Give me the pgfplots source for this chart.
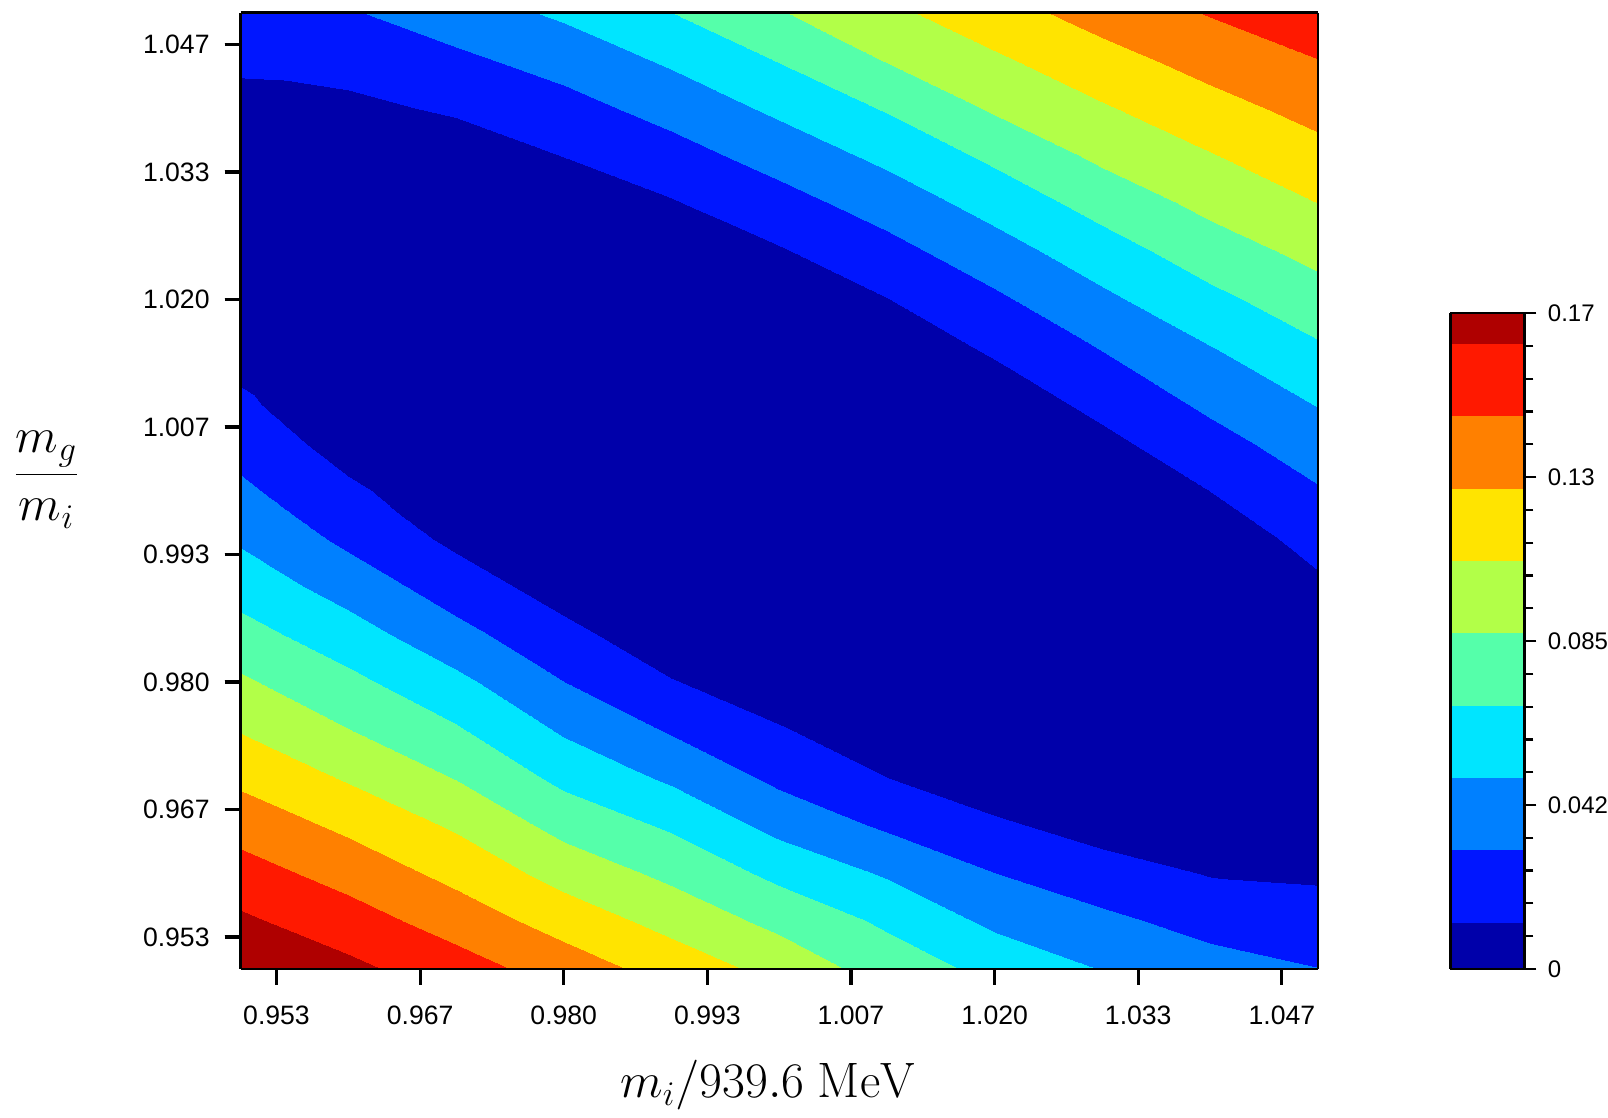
\documentclass[border=0pt]{standalone}
\usepackage[no-math]{fontspec}
\setmainfont{Liberation Sans}
\usepackage{pgfplots}
\pgfplotsset{compat=1.18}
\pgfplotsset{colormap={refjet}{
  rgb255(0pt)=(0,0,170) rgb255(121pt)=(0,22,255) rgb255(308.5pt)=(0,128,255)
  rgb255(496pt)=(0,229,255) rgb255(683.5pt)=(85,255,170) rgb255(871pt)=(178,255,72)
  rgb255(1058.5pt)=(255,228,0) rgb255(1246pt)=(255,128,0) rgb255(1433.5pt)=(255,25,0)
  rgb255(1621pt)=(175,0,0) rgb255(1700pt)=(175,0,0)}}
\begin{document}
\begin{tikzpicture}
\begin{axis}[
  name=main,
  scale only axis, width=538.8pt, height=478.3pt,
  view={0}{90},
  xmin=0.95, xmax=1.05, ymin=0.95, ymax=1.05,
  enlargelimits=false,
  axis on top,
  xtick={0.953333,0.966667,0.98,0.993333,1.006667,1.02,1.033333,1.046667},
  xticklabels={0.953,0.967,0.980,0.993,1.007,1.020,1.033,1.047},
  ytick={0.953333,0.966667,0.98,0.993333,1.006667,1.02,1.033333,1.046667},
  yticklabels={0.953,0.967,0.980,0.993,1.007,1.020,1.033,1.047},
  minor x tick num=1, minor y tick num=1,
  tick align=outside, tick pos=left,
  major tick length=8pt, minor tick length=4.5pt,
  every major tick/.append style={line width=1.6pt, black},
  every minor tick/.append style={line width=1.3pt, black},
  axis line style={line width=1.2pt},
  /pgf/number format/assume math mode=true,
  tick label style={font=\fontsize{13.3}{16}\selectfont},
  xticklabel shift=7pt,
  yticklabel shift=4pt,
  xlabel={$m_i/939.6\ \mathrm{MeV}$},
  xlabel style={at={(axis description cs:0.4896,-0.1345)}, anchor=base, inner sep=0pt, font=\fontsize{24}{28}\selectfont},
  ylabel={$\displaystyle\frac{m_g}{m_i}$},
  ylabel style={at={(axis description cs:-0.1802,0.5115)}, rotate=-90, anchor=center, inner sep=0pt, font=\fontsize{24}{28}\selectfont},
  colormap name=refjet,
  colormap access=piecewise constant,
  point meta min=0, point meta max=0.17,
  colorbar,
  colorbar style={
    at={(parent axis.south east)}, anchor=south west, xshift=57.8pt,
    scale only axis, width=37pt, height=328pt,
    ytick={0,0.0425,0.085,0.1275,0.17},
    yticklabels={0,0.042,0.085,0.13,0.17},
    minor y tick num=4,
    tick align=outside, ytick pos=right, yticklabel pos=right,
    major tick length=6pt, minor tick length=4.5pt,
    every major tick/.append style={line width=1.3pt, black},
    every minor tick/.append style={line width=1.1pt, black},
    axis line style={line width=1.2pt},
    tick label style={font=\fontsize{12}{14}\selectfont, inner xsep=0pt},
    yticklabel shift=5.6pt,
  },
]
\addplot3[surf, shader=interp, colormap access=piecewise constant] table {
x y v
0.95 0.950 0.1799
0.95 0.955 0.1653
0.95 0.960 0.1508
0.95 0.965 0.1359
0.95 0.970 0.1204
0.95 0.975 0.1047
0.95 0.980 0.0898
0.95 0.985 0.0749
0.95 0.990 0.0606
0.95 0.995 0.0470
0.95 1.000 0.0344
0.95 1.005 0.0237
0.95 1.010 0.0138
0.95 1.015 0.0038
0.95 1.020 0
0.95 1.025 0
0.95 1.030 0
0.95 1.035 0
0.95 1.040 0.0072
0.95 1.045 0.0150
0.95 1.050 0.0228

0.96 0.950 0.1668
0.96 0.955 0.1517
0.96 0.960 0.1364
0.96 0.965 0.1205
0.96 0.970 0.1040
0.96 0.975 0.0876
0.96 0.980 0.0731
0.96 0.985 0.0578
0.96 0.990 0.0415
0.96 0.995 0.0268
0.96 1.000 0.0156
0.96 1.005 0.0044
0.96 1.010 0
0.96 1.015 0
0.96 1.020 0
0.96 1.025 0
0.96 1.030 0
0.96 1.035 0
0.96 1.040 0.0081
0.96 1.045 0.0187
0.96 1.050 0.0292

0.97 0.950 0.1518
0.97 0.955 0.1353
0.97 0.960 0.1190
0.97 0.965 0.1032
0.97 0.970 0.0864
0.97 0.975 0.0704
0.97 0.980 0.0543
0.97 0.985 0.0364
0.97 0.990 0.0215
0.97 0.995 0.0081
0.97 1.000 0
0.97 1.005 0
0.97 1.010 0
0.97 1.015 0
0.97 1.020 0
0.97 1.025 0
0.97 1.030 0
0.97 1.035 0.0021
0.97 1.040 0.0146
0.97 1.045 0.0272
0.97 1.050 0.0405

0.98 0.950 0.1349
0.98 0.955 0.1168
0.98 0.960 0.0986
0.98 0.965 0.0808
0.98 0.970 0.0636
0.98 0.975 0.0471
0.98 0.980 0.0310
0.98 0.985 0.0173
0.98 0.990 0.0036
0.98 0.995 0
0.98 1.000 0
0.98 1.005 0
0.98 1.010 0
0.98 1.015 0
0.98 1.020 0
0.98 1.025 0
0.98 1.030 0.0003
0.98 1.035 0.0124
0.98 1.040 0.0245
0.98 1.045 0.0379
0.98 1.050 0.0527

0.99 0.950 0.1172
0.99 0.955 0.0996
0.99 0.960 0.0827
0.99 0.965 0.0656
0.99 0.970 0.0466
0.99 0.975 0.0290
0.99 0.980 0.0132
0.99 0.985 0
0.99 0.990 0
0.99 0.995 0
0.99 1.000 0
0.99 1.005 0
0.99 1.010 0
0.99 1.015 0
0.99 1.020 0
0.99 1.025 0
0.99 1.030 0.0104
0.99 1.035 0.0236
0.99 1.040 0.0375
0.99 1.045 0.0525
0.99 1.050 0.0681

1.00 0.950 0.1000
1.00 0.955 0.0820
1.00 0.960 0.0635
1.00 0.965 0.0436
1.00 0.970 0.0267
1.00 0.975 0.0137
1.00 0.980 0.0006
1.00 0.985 0
1.00 0.990 0
1.00 0.995 0
1.00 1.000 0
1.00 1.005 0
1.00 1.010 0
1.00 1.015 0
1.00 1.020 0
1.00 1.025 0.0103
1.00 1.030 0.0237
1.00 1.035 0.0381
1.00 1.040 0.0535
1.00 1.045 0.0693
1.00 1.050 0.0858

1.01 0.950 0.0787
1.01 0.955 0.0652
1.01 0.960 0.0474
1.01 0.965 0.0279
1.01 0.970 0.0123
1.01 0.975 0
1.01 0.980 0
1.01 0.985 0
1.01 0.990 0
1.01 0.995 0
1.01 1.000 0
1.01 1.005 0
1.01 1.010 0
1.01 1.015 0
1.01 1.020 0.0115
1.01 1.025 0.0246
1.01 1.030 0.0388
1.01 1.035 0.0541
1.01 1.040 0.0701
1.01 1.045 0.0882
1.01 1.050 0.1017

1.02 0.950 0.0632
1.02 0.955 0.0454
1.02 0.960 0.0309
1.02 0.965 0.0151
1.02 0.970 0
1.02 0.975 0
1.02 0.980 0
1.02 0.985 0
1.02 0.990 0
1.02 0.995 0
1.02 1.000 0
1.02 1.005 0
1.02 1.010 0.0031
1.02 1.015 0.0153
1.02 1.020 0.0276
1.02 1.025 0.0417
1.02 1.030 0.0566
1.02 1.035 0.0723
1.02 1.040 0.0897
1.02 1.045 0.1031
1.02 1.050 0.1174

1.03 0.950 0.0490
1.03 0.955 0.0350
1.03 0.960 0.0199
1.03 0.965 0.0044
1.03 0.970 0
1.03 0.975 0
1.03 0.980 0
1.03 0.985 0
1.03 0.990 0
1.03 0.995 0
1.03 1.000 0
1.03 1.005 0.0074
1.03 1.010 0.0195
1.03 1.015 0.0319
1.03 1.020 0.0456
1.03 1.025 0.0598
1.03 1.030 0.0752
1.03 1.035 0.0909
1.03 1.040 0.1041
1.03 1.045 0.1181
1.03 1.050 0.1318

1.04 0.950 0.0383
1.04 0.955 0.0244
1.04 0.960 0.0110
1.04 0.965 0
1.04 0.970 0
1.04 0.975 0
1.04 0.980 0
1.04 0.985 0
1.04 0.990 0
1.04 0.995 0
1.04 1.000 0.0122
1.04 1.005 0.0244
1.04 1.010 0.0368
1.04 1.015 0.0492
1.04 1.020 0.0634
1.04 1.025 0.0779
1.04 1.030 0.0919
1.04 1.035 0.1047
1.04 1.040 0.1182
1.04 1.045 0.1315
1.04 1.050 0.1445

1.05 0.950 0.0313
1.05 0.955 0.0203
1.05 0.960 0.0093
1.05 0.965 0
1.05 0.970 0
1.05 0.975 0
1.05 0.980 0
1.05 0.985 0
1.05 0.990 0.0087
1.05 0.995 0.0190
1.05 1.000 0.0293
1.05 1.005 0.0407
1.05 1.010 0.0528
1.05 1.015 0.0663
1.05 1.020 0.0794
1.05 1.025 0.0925
1.05 1.030 0.1057
1.05 1.035 0.1184
1.05 1.040 0.1309
1.05 1.045 0.1431
1.05 1.050 0.1554
};
\end{axis}
\path (main.south west) ++(-120.35pt,-74.35pt) rectangle ++(804pt,559pt);
\end{tikzpicture}
\end{document}
